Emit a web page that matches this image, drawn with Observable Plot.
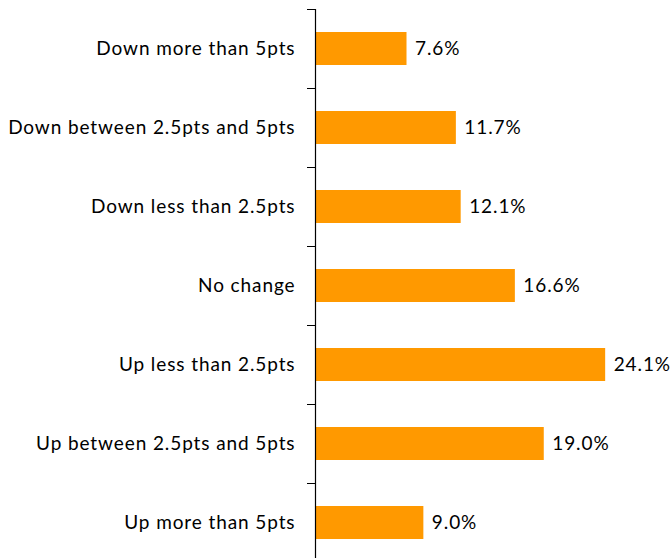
<!DOCTYPE html>
<html>
<head>
<meta charset="utf-8">
<script src="https://cdn.jsdelivr.net/npm/d3@7"></script>
<script src="https://cdn.jsdelivr.net/npm/@observablehq/plot@0.6"></script>
<style>
  html, body { margin: 0; padding: 0; background: #fff; overflow: hidden; }
  #chart svg { display: block; }
  #chart svg text { letter-spacing: 0.9px; }
</style>
</head>
<body>
<div id="chart"></div>
<script>
const categories = [
  "Down more than 5pts",
  "Down between 2.5pts and 5pts",
  "Down less than 2.5pts",
  "No change",
  "Up less than 2.5pts",
  "Up between 2.5pts and 5pts",
  "Up more than 5pts"
];
const values = [7.6, 11.7, 12.1, 16.6, 24.1, 19.0, 9.0];

const data = categories.map((c, i) => ({category: c, value: values[i]}));

const font = "Lato, 'Open Sans', sans-serif";
const chart = Plot.plot({
  width: 670,
  height: 558,
  marginLeft: 315,
  marginRight: 54,
  marginTop: 9,
  marginBottom: 0,
  style: {fontFamily: font, fontSize: "19px", color: "#000", background: "#fff"},
  x: {domain: [0, 25], axis: null},
  y: {domain: categories, range: [9.3, 562.3], paddingInner: 0.58, paddingOuter: 0.29, label: null},
  marks: [
    Plot.barX(data, {x: "value", y: "category", fill: "#FF9900"}),
    Plot.text(data, {x: "value", y: "category", text: d => d.value.toFixed(1) + "%", textAnchor: "start", dx: 8, fill: "#000", fontSize: 19}),
    Plot.axisY({tickSize: 0, tickPadding: 20, fontSize: 19, fill: "#000"}),
    Plot.axisY({tickSize: 8, dy: -39.5, tickFormat: () => "", stroke: "#000"}),
    Plot.ruleX([0], {stroke: "#000", strokeWidth: 1.2})
  ]
});
document.getElementById("chart").appendChild(chart);
</script>
</body>
</html>
